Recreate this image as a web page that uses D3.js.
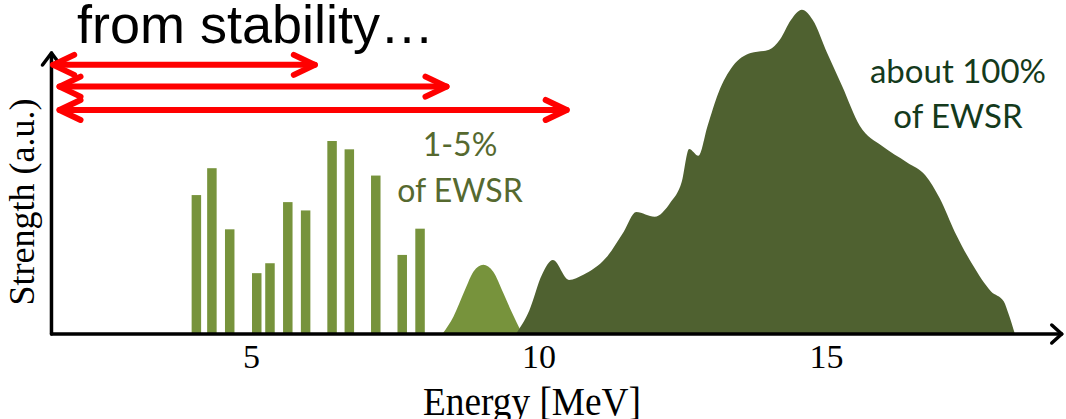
<!DOCTYPE html>
<html>
<head>
<meta charset="utf-8">
<script src="https://cdn.jsdelivr.net/npm/d3@7"></script>
<style>
  html, body { margin: 0; padding: 0; background: #ffffff; }
  svg { display: block; }
</style>
</head>
<body>
<svg id="chart" width="1066" height="419"></svg>
<script>
// ---- data ----
const energyTicks = [5, 10, 15];

// discrete low-lying states (bars)
const barEnergy   = [4.05, 4.32, 4.63, 5.10, 5.33, 5.64, 5.95, 6.41, 6.71, 7.17, 7.63, 7.94];
const barStrength = [4.31, 5.15, 3.24, 1.87, 2.18, 4.09, 3.83, 6.00, 5.74, 4.92, 2.44, 3.26];

// pygmy-like small resonance (light peak)
const smallPeakEnergy   = [8.34, 8.52, 8.72, 8.87, 9.04, 9.21, 9.39, 9.53, 9.71];
const smallPeakStrength = [0.00, 0.51, 1.34, 1.92, 2.13, 1.92, 1.24, 0.67, 0.00];

// giant resonance (dark peak)
const giantEnergy   = [9.62, 9.84, 10.06, 10.25, 10.53, 10.78, 11.17, 11.48, 11.70, 12.02, 12.30, 12.49,
                       12.62, 12.78, 12.94, 13.13, 13.38, 13.69, 14.01, 14.20, 14.39, 14.58, 14.77,
                       15.02, 15.28, 15.59, 15.97, 16.41, 16.73, 16.98, 17.24, 17.55, 17.87, 18.09, 18.18, 18.28];
const giantStrength = [0.00, 0.70, 1.82, 2.28, 1.66, 1.82, 2.34, 3.16, 3.78, 3.63, 4.09, 4.72,
                       5.75, 5.54, 6.47, 7.51, 8.34, 8.75, 8.85, 9.17, 9.78, 10.10, 9.78,
                       8.75, 7.72, 6.47, 5.85, 5.33, 4.92, 4.20, 3.16, 2.13, 1.30, 0.99, 0.57, 0.00];

// red double arrows (energy ranges) and their levels
const arrowStart = [1.56, 1.67, 1.67];
const arrowEnd   = [6.11, 8.40, 10.49];
const arrowLevel = [8.38, 7.70, 6.97];

const axisLabels = { x: "Energy [MeV]", y: "Strength (a.u.)" };
const title = "from stability…";
const smallLabel = ["1-5%", "of EWSR"];
const giantLabel = ["about 100%", "of EWSR"];

// ---- scales ----
const x = d3.scaleLinear().domain([5, 15]).range([251, 826]);
const y = d3.scaleLinear().domain([0, 10]).range([333, 13]);

const svg = d3.select("#chart");
const barW = x(5.165) - x(5);

// bars
svg.append("g").selectAll("rect")
  .data(barEnergy.map((e, i) => ({ e, s: barStrength[i] })))
  .join("rect")
  .attr("x", d => x(d.e) - barW / 2)
  .attr("width", barW)
  .attr("y", d => y(d.s))
  .attr("height", d => y(0) - y(d.s))
  .attr("fill", "#77933c");

// peaks
const area = d3.area()
  .x(d => x(d.e))
  .y0(y(0))
  .y1(d => y(d.s))
  .curve(d3.curveMonotoneX);

svg.append("path")
  .datum(smallPeakEnergy.map((e, i) => ({ e, s: smallPeakStrength[i] })))
  .attr("d", area)
  .attr("fill", "#77933c");

svg.append("path")
  .datum(giantEnergy.map((e, i) => ({ e, s: giantStrength[i] })))
  .attr("d", area)
  .attr("fill", "#4f6130");

// ---- axes ----
const axisX0 = x(1.53);       // y-axis position
const axisXEnd = x(19.1);     // x-axis arrow tip
const axisY = y(0) + 1;
const axisYTop = y(8.75);

const axes = svg.append("g").attr("stroke", "#000").attr("fill", "none")
  .attr("stroke-width", 3.5).attr("stroke-linecap", "round").attr("stroke-linejoin", "round");
axes.append("path").attr("d", `M${axisX0},${axisY} H${axisXEnd}`);
axes.append("path").attr("d", `M${axisX0},${axisY} V${axisYTop}`);
axes.append("path").attr("d", `M${axisXEnd - 10},${axisY - 9} L${axisXEnd},${axisY} L${axisXEnd - 10},${axisY + 9}`);
axes.append("path").attr("d", `M${axisX0 - 9},${axisYTop + 12} L${axisX0},${axisYTop} L${axisX0 + 9},${axisYTop + 12}`);

const xAxis = d3.axisBottom(x).tickValues(energyTicks).tickSize(0).tickFormat(d3.format("d"));
const gx = svg.append("g").attr("transform", `translate(0,${axisY})`).call(xAxis);
gx.select(".domain").remove();
gx.selectAll("text")
  .attr("y", 34).attr("dy", null)
  .attr("fill", "#000")
  .style("font-family", "'Liberation Serif', 'Times New Roman', serif")
  .style("font-size", "34px");

// axis titles
svg.append("text")
  .attr("x", 532).attr("y", 415)
  .attr("text-anchor", "middle")
  .attr("textLength", 218).attr("lengthAdjust", "spacingAndGlyphs")
  .style("font-family", "'Liberation Serif', 'Times New Roman', serif")
  .style("font-size", "39px")
  .text(axisLabels.x);

svg.append("text")
  .attr("transform", "translate(34,202) rotate(-90)")
  .attr("text-anchor", "middle")
  .style("font-family", "'Liberation Serif', 'Times New Roman', serif")
  .style("font-size", "36px")
  .text(axisLabels.y);

// ---- red arrows ----
const arrows = svg.append("g").attr("stroke", "#ff0000").attr("fill", "none")
  .attr("stroke-width", 6).attr("stroke-linecap", "round").attr("stroke-linejoin", "round");
arrowStart.forEach((s, i) => {
  const x0 = x(s), x1 = x(arrowEnd[i]), yy = y(arrowLevel[i]);
  arrows.append("path").attr("d", `M${x0},${yy} H${x1}`);
  arrows.append("path").attr("d", `M${x0 + 21},${yy - 10} L${x0},${yy} L${x0 + 21},${yy + 10}`);
  arrows.append("path").attr("d", `M${x1 - 21},${yy - 10} L${x1},${yy} L${x1 - 21},${yy + 10}`);
});

// ---- annotations ----
svg.append("text")
  .attr("x", 77).attr("y", 43)
  .style("font-family", "'Liberation Sans', Arial, sans-serif")
  .style("font-size", "54px")
  .attr("fill", "#000")
  .text(title);

const small = svg.append("text")
  .attr("text-anchor", "middle")
  .style("font-family", "Lato, 'Open Sans', sans-serif")
  .style("font-size", "32px")
  .attr("fill", "#56692f");
small.append("tspan").attr("x", 460).attr("y", 156).text(smallLabel[0]);
small.append("tspan").attr("x", 460).attr("y", 201.5).text(smallLabel[1]);

const giant = svg.append("text")
  .attr("text-anchor", "middle")
  .style("font-family", "Lato, 'Open Sans', sans-serif")
  .style("font-size", "33px")
  .attr("fill", "#143a1c");
giant.append("tspan").attr("x", 958).attr("y", 83).text(giantLabel[0]);
giant.append("tspan").attr("x", 958).attr("y", 128).text(giantLabel[1]);
</script>
</body>
</html>
